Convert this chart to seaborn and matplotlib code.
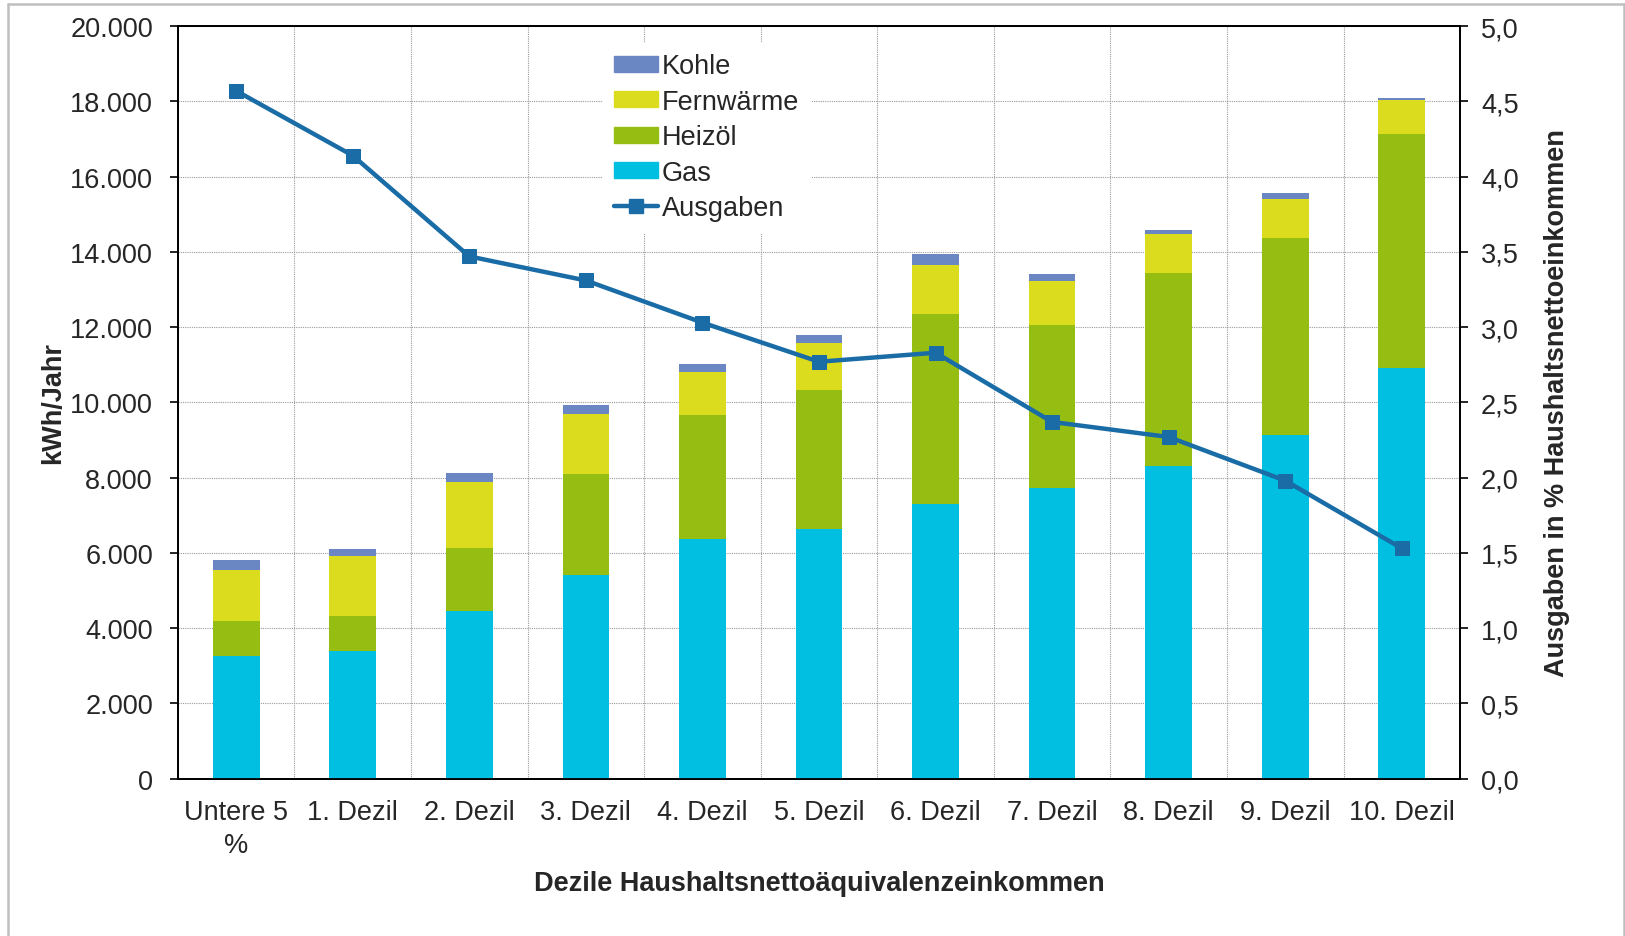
import numpy as np
import pandas as pd
import matplotlib
matplotlib.use('Agg')
import matplotlib.pyplot as plt
import matplotlib.ticker as mticker
from matplotlib.patches import Patch
from matplotlib.lines import Line2D
import seaborn as sns

# Daten
kategorien = ['Untere 5\n%', '1. Dezil', '2. Dezil', '3. Dezil', '4. Dezil', '5. Dezil',
              '6. Dezil', '7. Dezil', '8. Dezil', '9. Dezil', '10. Dezil']
gas = [3250, 3380, 4450, 5400, 6380, 6630, 7300, 7730, 8300, 9130, 10920]
heizoel = [930, 940, 1680, 2690, 3280, 3690, 5050, 4320, 5150, 5230, 6220]
fernwaerme = [1370, 1600, 1760, 1600, 1160, 1270, 1300, 1180, 1020, 1040, 910]
kohle = [250, 190, 220, 250, 190, 190, 300, 190, 110, 170, 50]
ausgaben = [4.57, 4.14, 3.47, 3.31, 3.03, 2.77, 2.83, 2.37, 2.27, 1.98, 1.53]

FARBEN = {
    'Gas': '#00BFE0',
    'Heizöl': '#96BE12',
    'Fernwärme': '#DCDC1E',
    'Kohle': '#6A87C4',
}
LINIE = '#1A6CA6'
FS = 19.5

sns.set_theme(style='white')
plt.rcParams['font.family'] = ['Liberation Sans', 'DejaVu Sans']

df = pd.DataFrame({'Kategorie': kategorien, 'Gas': gas, 'Heizöl': heizoel,
                   'Fernwärme': fernwaerme, 'Kohle': kohle, 'Ausgaben': ausgaben})
df['cum_Gas'] = df['Gas']
df['cum_Heizöl'] = df['cum_Gas'] + df['Heizöl']
df['cum_Fernwärme'] = df['cum_Heizöl'] + df['Fernwärme']
df['cum_Kohle'] = df['cum_Fernwärme'] + df['Kohle']

fig = plt.figure(figsize=(16.25, 9.37), dpi=100)
ax = fig.add_axes([0.1095, 0.168, 0.789, 0.803])

# gestapelte Balken: von oben nach unten zeichnen
for serie in ['Kohle', 'Fernwärme', 'Heizöl', 'Gas']:
    sns.barplot(data=df, x='Kategorie', y='cum_' + serie, color=FARBEN[serie],
                width=0.4, saturation=1, ax=ax, zorder=3, linewidth=0)

n = len(kategorien)
ax.set_xlim(-0.5, n - 0.5)
ax.set_ylim(0, 20000)
ax.set_yticks(np.arange(0, 20001, 2000))
ax.yaxis.set_major_formatter(mticker.FuncFormatter(lambda v, p: f'{int(v):,}'.replace(',', '.')))

# x-Achse: Striche an den Grenzen, Beschriftung in der Mitte
ax.set_xticks(np.arange(-0.5, n, 1.0))
ax.set_xticklabels([])
ax.set_xticks(np.arange(n), minor=True)
ax.set_xticklabels(kategorien, minor=True, fontsize=FS, linespacing=1.35)
ax.tick_params(axis='x', which='major', length=7, width=1.2, color='black', direction='out')
ax.tick_params(axis='x', which='minor', length=0, pad=15)
ax.tick_params(axis='y', length=6, width=1.2, color='black', direction='out', labelsize=FS, pad=12)
ax.grid(True, which='major', axis='both', color='#9A9A9A', linestyle=(0, (1, 1)), linewidth=0.8)
ax.set_axisbelow(True)
for s in ax.spines.values():
    s.set_color('black')
    s.set_linewidth(1.3)

ax.set_xlabel('Dezile Haushaltsnettoäquivalenzeinkommen', fontsize=FS, fontweight='bold', labelpad=8)
ax.set_ylabel('kWh/Jahr', fontsize=FS, fontweight='bold', labelpad=3)

# zweite Achse: Ausgaben
ax2 = ax.twinx()
sns.lineplot(x=np.arange(n), y=df['Ausgaben'], color=LINIE, linewidth=3.2,
             marker='s', markersize=10, markeredgecolor=LINIE, ax=ax2, zorder=5)
ax2.set_ylim(0, 5)
ax2.set_yticks(np.arange(0, 5.01, 0.5))
ax2.yaxis.set_major_formatter(mticker.FuncFormatter(lambda v, p: f'{v:.1f}'.replace('.', ',')))
ax2.tick_params(axis='y', length=6, width=1.2, color='black', direction='out', labelsize=FS, pad=9)
ax2.set_ylabel('Ausgaben in % Haushaltsnettoeinkommen', fontsize=FS, fontweight='bold',
               labelpad=18)
for s in ax2.spines.values():
    s.set_color('black')
    s.set_linewidth(1.3)
ax.set_xlim(-0.5, n - 0.5)

# Legende
handles = [Patch(color=FARBEN['Kohle']), Patch(color=FARBEN['Fernwärme']),
           Patch(color=FARBEN['Heizöl']), Patch(color=FARBEN['Gas']),
           Line2D([], [], color=LINIE, linewidth=3.2, marker='s', markersize=10)]
labels = ['Kohle', 'Fernwärme', 'Heizöl', 'Gas', 'Ausgaben']
leg = ax2.legend(handles, labels, loc='upper left', bbox_to_anchor=(0.363, 0.968),
                 bbox_transform=fig.transFigure, fontsize=FS, frameon=True,
                 facecolor='white', edgecolor='white', framealpha=1, fancybox=False,
                 handlelength=1.6, handleheight=0.55, handletextpad=0.15, labelspacing=0.35,
                 borderpad=0.4)

# Rahmen um die Grafik (links, oben, rechts)
rahmen = dict(color='#BFBFBF', linewidth=1.8, transform=fig.transFigure)
fig.add_artist(Line2D([0.005, 0.005], [0.0, 0.9947], **rahmen))
fig.add_artist(Line2D([0.005, 0.9993], [0.9947, 0.9947], **rahmen))
fig.add_artist(Line2D([0.9993, 0.9993], [0.0, 0.9947], **rahmen))

fig.savefig('out.png', dpi=100)
